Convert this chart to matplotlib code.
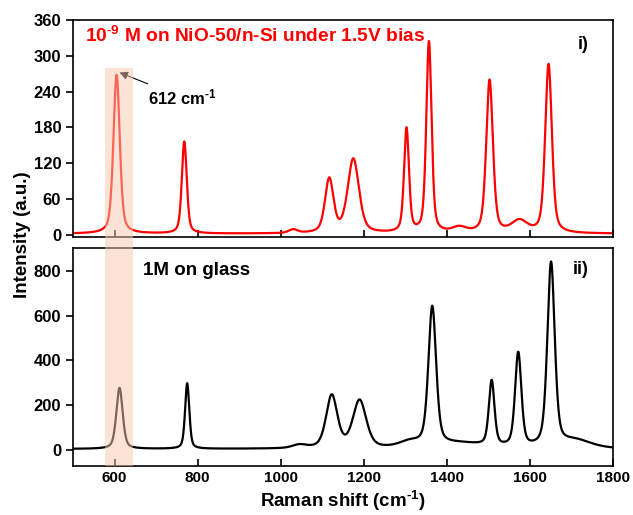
import numpy as np
import matplotlib.pyplot as plt
from matplotlib.patches import Rectangle
from matplotlib.transforms import blended_transform_factory

plt.rcParams['font.family'] = ['Liberation Sans', 'DejaVu Sans']
plt.rcParams['font.weight'] = 'bold'
plt.rcParams['mathtext.fontset'] = 'custom'
plt.rcParams['mathtext.bf'] = 'Liberation Sans:bold'
plt.rcParams['mathtext.rm'] = 'Liberation Sans:bold'
plt.rcParams['mathtext.default'] = 'bf'

# Raman bands: position (cm-1), height (a.u.), FWHM (cm-1)
pos_nio = [605, 768, 1030, 1117, 1175, 1303, 1357, 1430, 1503, 1575, 1645]
h_nio = [266, 154, 6, 90, 124, 174, 320, 9, 256, 20, 283]
w_nio = [18, 14, 25, 24, 32, 14, 15, 40, 19, 45, 19]
base_nio = 2

pos_glass = [612, 775, 1045, 1123, 1190, 1310, 1365, 1430, 1508, 1572, 1651, 1710]
h_glass = [272, 292, 15, 235, 212, 25, 620, 22, 290, 420, 820, 35]
w_glass = [18, 12, 40, 32, 38, 60, 22, 140, 16, 18, 21, 90]
base_glass = 5

shift = np.linspace(500, 1800, 2601)


def spectrum(pos, h, w, base, eta=0.45):
    # pseudo-Voigt line shapes on a flat baseline
    y = np.full_like(shift, base, dtype=float)
    for p, a, fw in zip(pos, h, w):
        g = fw / 2
        lor = g**2 / ((shift - p)**2 + g**2)
        gau = np.exp(-np.log(2) * ((shift - p) / g)**2)
        y += a * (eta * lor + (1 - eta) * gau)
    return y


y_nio = spectrum(pos_nio, h_nio, w_nio, base_nio)
y_glass = spectrum(pos_glass, h_glass, w_glass, base_glass)

fig = plt.figure(figsize=(6.33, 5.15), dpi=100)
ax1 = fig.add_axes([0.1153, 0.5398, 0.853, 0.4214])
ax2 = fig.add_axes([0.1153, 0.0951, 0.853, 0.4233])

ax1.plot(shift, y_nio, color='red', lw=1.6)
ax2.plot(shift, y_glass, color='black', lw=1.6)

for ax in (ax1, ax2):
    ax.set_xlim(500, 1800)
    ax.set_xticks([600, 800, 1000, 1200, 1400, 1600, 1800])
    ax.tick_params(axis='x', direction='in', length=5, width=1.2, labelsize=11)
    ax.tick_params(axis='y', direction='out', length=5, width=1.2, labelsize=12)
    for s in ax.spines.values():
        s.set_linewidth(1.2)

ax1.set_ylim(-3.5, 360)
ax1.set_yticks(np.arange(0, 361, 60))
ax1.tick_params(axis='x', labelbottom=False)
ax2.set_ylim(-71, 901)
ax2.set_yticks(np.arange(0, 801, 200))

hy = '\u2010'
ax1.text(0.022, 0.925, '10$^{' + hy + '9}$ M on NiO-50/n-Si under 1.5V bias', transform=ax1.transAxes,
         color='red', fontsize=13.8, fontweight='bold', va='center', ha='left')
ax1.text(0.935, 0.885, 'i)', transform=ax1.transAxes, fontsize=13, fontweight='bold', va='center')
ax2.text(0.13, 0.895, '1M on glass', transform=ax2.transAxes, fontsize=13.5, fontweight='bold', va='center')
ax2.text(0.925, 0.9, 'ii)', transform=ax2.transAxes, fontsize=13, fontweight='bold', va='center')

ax1.annotate('612 cm$^{' + hy + '1}$', xy=(612, 272), xytext=(680, 230), fontsize=12, fontweight='bold',
             va='center', ha='left',
             arrowprops=dict(arrowstyle='-|>', color='black', lw=0.8, mutation_scale=12,
                             shrinkA=2, shrinkB=0))

ax2.set_xlabel('Raman shift (cm$^{' + hy + '1}$)', fontsize=13.5, fontweight='bold', labelpad=3)
fig.text(0.035, 0.544, 'Intensity (a.u.)', rotation=90, fontsize=13.5, fontweight='bold',
         va='center', ha='center')

# highlight band spanning both panels
tr = blended_transform_factory(ax2.transData, fig.transFigure)
fig.patches.append(Rectangle((578, 0.0951), 67, 0.867 - 0.0951, transform=tr,
                             facecolor='#F8CBAD', alpha=0.5, edgecolor='none', zorder=5))

fig.savefig('out.png', dpi=100)
